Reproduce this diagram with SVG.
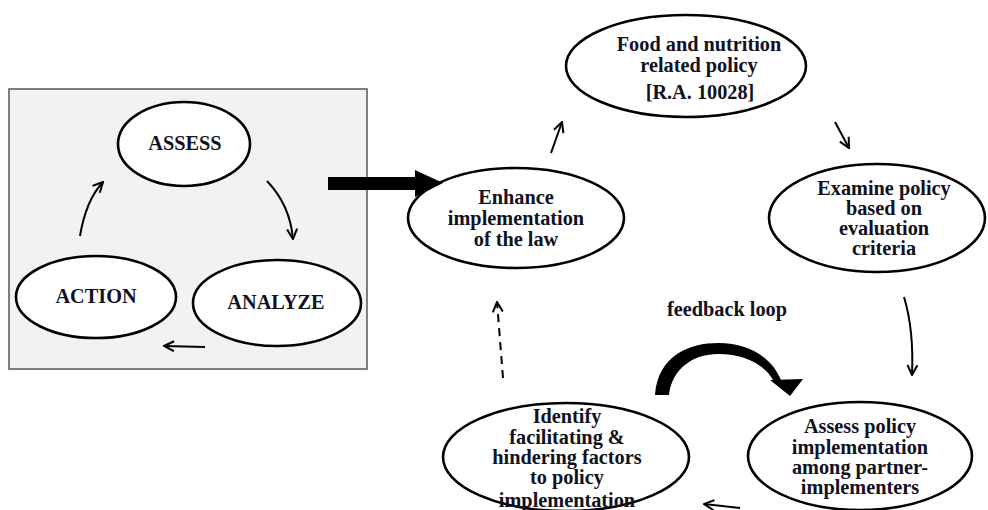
<svg xmlns="http://www.w3.org/2000/svg" width="988" height="510" viewBox="0 0 988 510">
<defs>
<style>
.n{fill:#fff;stroke:#000;stroke-width:2.6}
.t{font-family:"Liberation Serif","Times New Roman",serif;font-weight:bold;font-size:20.3px;fill:#111122;text-anchor:middle}
.c{fill:none;stroke:#000;stroke-width:2}
</style>
<marker id="ah" viewBox="0 0 12 12" refX="11" refY="6" markerWidth="12" markerHeight="12" markerUnits="userSpaceOnUse" orient="auto">
<path d="M1,1 L11,6 L1,11" fill="none" stroke="#000" stroke-width="2"/>
</marker>
</defs>
<rect x="9" y="89" width="358" height="280" fill="#f2f2f2" stroke="#555" stroke-width="1.5"/>
<g id="assess"><ellipse class="n" cx="184" cy="144" rx="66" ry="42"/><text class="t" x="185" y="150">ASSESS</text></g>
<g id="action"><ellipse class="n" cx="96" cy="297" rx="80" ry="41"/><text class="t" x="96" y="303">ACTION</text></g>
<g id="analyze"><ellipse class="n" cx="277" cy="303" rx="84" ry="43"/><text class="t" x="276" y="309">ANALYZE</text></g>
<g id="food"><ellipse class="n" cx="686" cy="66" rx="120" ry="51"/><text class="t" x="699" y="51">Food and nutrition</text><text class="t" x="699" y="72">related policy</text><text class="t" x="700" y="99">[R.A. 10028]</text></g>
<g id="enhance"><ellipse class="n" cx="516" cy="218" rx="108" ry="50"/><text class="t" x="516" y="204">Enhance</text><text class="t" x="516" y="225">implementation</text><text class="t" x="516" y="246">of the law</text></g>
<g id="examine"><ellipse class="n" cx="877" cy="218" rx="108" ry="54"/><text class="t" x="884" y="195">Examine policy</text><text class="t" x="884" y="215">based on</text><text class="t" x="884" y="235">evaluation</text><text class="t" x="884" y="255">criteria</text></g>
<g id="assesspolicy"><ellipse class="n" cx="860" cy="456" rx="112" ry="54"/><text class="t" x="860" y="433">Assess policy</text><text class="t" x="860" y="454">implementation</text><text class="t" x="860" y="474">among partner-</text><text class="t" x="860" y="494">implementers</text></g>
<g id="identify"><ellipse class="n" cx="566" cy="457" rx="123" ry="54"/><text class="t" x="567" y="423">Identify</text><text class="t" x="567" y="444">facilitating &amp;</text><text class="t" x="567" y="464">hindering factors</text><text class="t" x="567" y="484">to policy</text><text class="t" x="567" y="507">implementation</text></g>
<text class="t" x="727" y="316">feedback loop</text>
<g id="connectors">
<path class="c" d="M267,181 Q290,205 293,239" marker-end="url(#ah)"/>
<path class="c" d="M205,347 L164,346" marker-end="url(#ah)"/>
<path class="c" d="M80,236 Q86,200 103,182" marker-end="url(#ah)"/>
<path fill="#000" d="M328,177 L415,177 L415,170 L443,183 L415,197 L415,190 L328,190 Z"/>
<path class="c" d="M551,153 L562,122" marker-end="url(#ah)"/>
<path class="c" d="M835,122 L849,148" marker-end="url(#ah)"/>
<path class="c" d="M904,297 Q914,330 912,375" marker-end="url(#ah)"/>
<path class="c" d="M740,508 L704,504" marker-end="url(#ah)"/>
<path class="c" d="M503,378 L497,302" stroke-dasharray="8,6" marker-end="url(#ah)"/>
<path fill="#000" d="M655,395 C658,355 690,343 718,343 C752,343 773,360 781,380 L773,380 C765,365 745,354 718,354 C694,354 672,368 669,395 Z"/>
<path fill="#000" d="M770,380 L803,379 L790,396 Z"/>
</g>
</svg>
